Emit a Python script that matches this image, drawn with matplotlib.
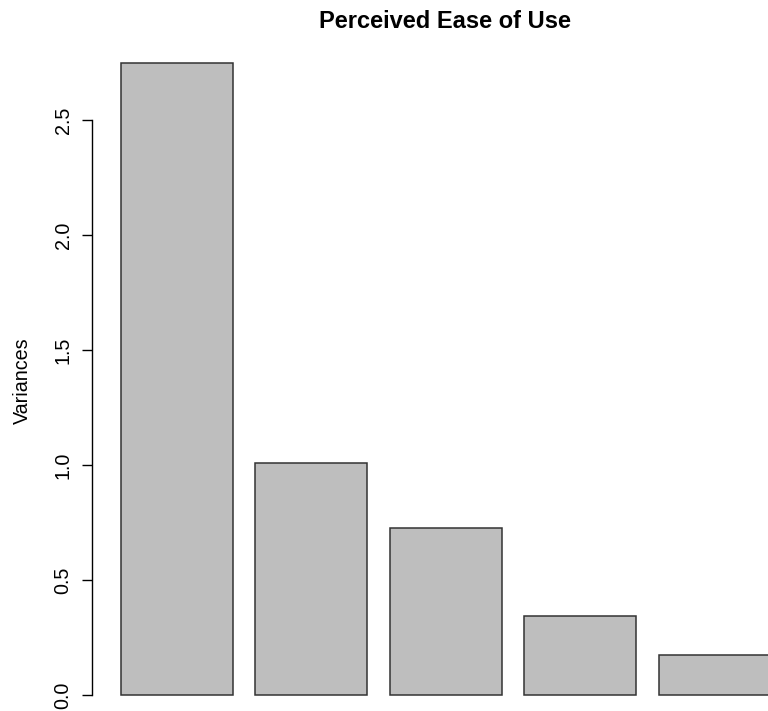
import matplotlib
matplotlib.use("Agg")
import matplotlib.pyplot as plt

# variancias das componentes (screeplot)
componentes = ["Comp.1", "Comp.2", "Comp.3", "Comp.4", "Comp.5"]
variancias = [2.748, 1.008, 0.726, 0.342, 0.174]
yticks = [0.0, 0.5, 1.0, 1.5, 2.0, 2.5]

plt.rcParams['font.family'] = ['Liberation Sans', 'DejaVu Sans']

W, H = 768, 711
fig = plt.figure(figsize=(W / 100, H / 100), dpi=100)

# regiao do grafico como no R (parte direita e de baixo ficam fora da figura)
left, right, top, bottom = 95, 796.6, 37.7, 720.3
ax = fig.add_axes([left / W, 1 - bottom / H, (right - left) / W, (bottom - top) / H])
ax.set_facecolor("none")

# barplot do R: largura 1, espaco 0.2
x = [0.7 + 1.2 * i for i in range(len(variancias))]
ax.bar(x, variancias, width=1.0, color="#bebebe", edgecolor="#333333", linewidth=1.1)

ax.set_xlim(-0.032, 6.232)
ax.set_ylim(-0.11, 2.858)

for s in ["top", "right", "bottom"]:
    ax.spines[s].set_visible(False)
ax.spines["left"].set_bounds(0, 2.5)
ax.spines["left"].set_position(("outward", 2))
ax.spines["left"].set_linewidth(1)
ax.set_xticks([])
ax.set_yticks(yticks)
ax.set_yticklabels(["%.1f" % v for v in yticks], rotation=90, va="center", fontsize=14.2)
ax.tick_params(axis="y", length=7.2, width=1, pad=7)

fig.text(22 / W, 1 - 381 / H, "Variances", rotation=90, ha="center", va="center", fontsize=14.2)
fig.text(445 / W, 1 - 22 / H, "Perceived Ease of Use", ha="center", va="center",
         fontsize=17, fontweight="bold")

fig.savefig("out.png", dpi=100)
